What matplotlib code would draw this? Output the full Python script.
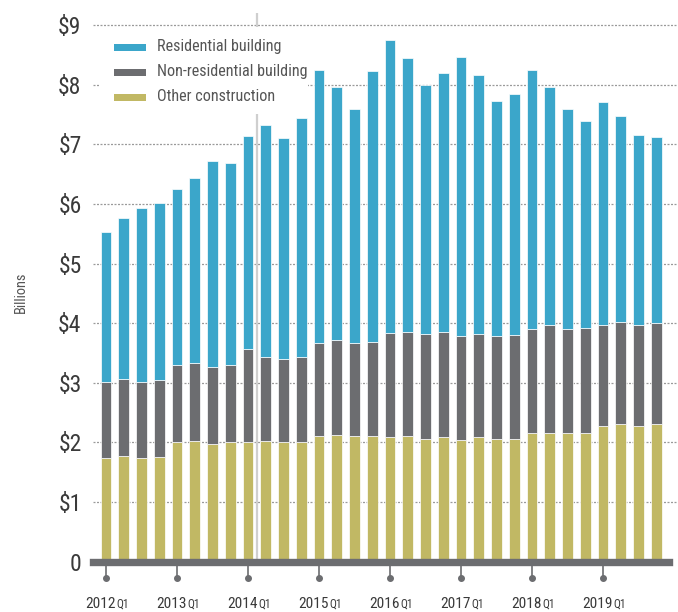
import matplotlib
matplotlib.use("Agg")
import matplotlib.pyplot as plt
import matplotlib.font_manager as fm
from matplotlib.patches import Rectangle
from matplotlib.textpath import TextPath
from matplotlib.font_manager import FontProperties
from matplotlib.transforms import blended_transform_factory, offset_copy

# ---- data (billions of dollars, quarterly 2012Q1 .. 2019Q4) ----
years = ["2012", "2013", "2014", "2015", "2016", "2017", "2018", "2019"]
quarters = [f"{y}Q{q}" for y in years for q in (1, 2, 3, 4)]

other_construction = [1.73, 1.77, 1.74, 1.76, 2.00, 2.02, 1.97, 2.00,
                      2.00, 2.02, 2.00, 2.00, 2.11, 2.13, 2.11, 2.11,
                      2.09, 2.11, 2.06, 2.09, 2.04, 2.09, 2.06, 2.06,
                      2.16, 2.16, 2.15, 2.16, 2.27, 2.30, 2.27, 2.30]
non_residential = [1.28, 1.29, 1.27, 1.28, 1.29, 1.31, 1.30, 1.29,
                   1.56, 1.42, 1.40, 1.44, 1.55, 1.59, 1.55, 1.58,
                   1.74, 1.75, 1.76, 1.77, 1.74, 1.73, 1.72, 1.74,
                   1.74, 1.81, 1.75, 1.76, 1.70, 1.72, 1.70, 1.70]
residential = [2.52, 2.71, 2.92, 2.97, 2.96, 3.10, 3.45, 3.40,
               3.58, 3.89, 3.71, 4.01, 4.59, 4.25, 3.93, 4.54,
               4.92, 4.59, 4.17, 4.34, 4.68, 4.34, 3.95, 4.04,
               4.34, 4.00, 3.70, 3.48, 3.74, 3.45, 3.18, 3.12]

y_ticks = [0, 1, 2, 3, 4, 5, 6, 7, 8, 9]
y_tick_labels = ["0"] + [f"${v}" for v in y_ticks[1:]]
series_names = ["Residential building", "Non-residential building", "Other construction"]
reference_quarter = 8.5  # light vertical marker between 2014Q1 and 2014Q2

# ---- style ----
BLUE = "#3ba6ca"
GREY = "#6c6d70"
OLIVE = "#c1b864"
TEXT = "#3a3a3a"
DPI = 100


def pick_narrow_font():
    """Find the narrowest regular sans font installed."""
    fonts = fm.fontManager.ttflist

    def regular(f):
        return f.style == "normal" and f.weight in (400, "normal", "regular", "book")

    for key in ("Liberation Sans Narrow", "Roboto Condensed", "Open Sans Condensed",
                "Noto Sans Condensed", "DejaVu Sans Condensed"):
        for f in fonts:
            if f.name == key and regular(f):
                return f.fname
    for f in fonts:
        if regular(f) and str(f.stretch) in ("condensed", "semi-condensed", "extra-condensed") \
                and "Mono" not in f.name and "Serif" not in f.name:
            return f.fname
    for f in fonts:
        if regular(f) and ("Narrow" in f.fname or "Condensed" in f.fname) \
                and "Mono" not in f.fname and "Serif" not in f.fname:
            return f.fname
    return fm.findfont(FontProperties(family="DejaVu Sans"))


FONT_FILE = pick_narrow_font()


def fp(size):
    return FontProperties(fname=FONT_FILE, size=size)


def ink_width_px(text, size):
    tp = TextPath((0, 0), text, prop=fp(size))
    return tp.get_extents().width * DPI / 72.0


def fit(text, target_px, lo, hi):
    s = 10 * target_px / ink_width_px(text, 10)
    return max(lo, min(hi, s))


fig = plt.figure(figsize=(6.78, 6.12), dpi=DPI)
ax = fig.add_axes([0.1367, 0.0824, 0.85, 0.8959])

x = list(range(len(quarters)))
bottom2 = [a + b for a, b in zip(other_construction, non_residential)]
w = 0.6
ax.bar(x, other_construction, width=w, color=OLIVE, edgecolor="white", linewidth=0.5, zorder=3)
ax.bar(x, non_residential, width=w, bottom=other_construction, color=GREY,
       edgecolor="white", linewidth=0.5, zorder=3)
ax.bar(x, residential, width=w, bottom=bottom2, color=BLUE,
       edgecolor="white", linewidth=0.5, zorder=3)

ax.set_xlim(-0.75, 31.72)
ax.set_ylim(0, 9.2)

# gridlines (dotted, extend to right edge of figure)
gt = blended_transform_factory(ax.transAxes, ax.transData)
for v in y_ticks[1:]:
    ax.plot([0, 1.0157], [v, v], transform=gt, color="#9a9a9a", lw=0.9,
            linestyle=(0, (1.6, 1.2)), zorder=1, clip_on=False)

# reference vertical line
ax.axvline(reference_quarter, color="#cfcfcf", lw=1.6, zorder=2)

# baseline axis bar
ax.axhline(0, color=GREY, lw=5.3, zorder=5, clip_on=False)

for s in ax.spines.values():
    s.set_visible(False)

# y ticks
ysize = fit("$9", 22, 11, 17)
ax.set_yticks(y_ticks)
ax.set_yticklabels(y_tick_labels)
ax.tick_params(axis="y", length=0, pad=8, labelcolor=TEXT)
for lab in ax.get_yticklabels():
    lab.set_fontproperties(fp(ysize))
ax.set_xticks([])

# x ticks: stems + dots + labels
xt = blended_transform_factory(ax.transData, ax.transAxes)
year_size = fit("2012", 29, 9, 15)
q_size = fit("Q1", 10, 6, 9)
W = ink_width_px("2012", year_size)
wq = ink_width_px("Q1", q_size)
gap = 1.5
left_px = -(W + gap + wq) / 2.0
year_pos = [quarters.index(f"{y}Q1") for y in years]
for p, yr in zip(year_pos, years):
    ax.plot([p, p], [-0.007, -0.0294], transform=xt, color=GREY, lw=1.2,
            clip_on=False, zorder=5)
    ax.plot([p], [-0.0294], transform=xt, marker="o", ms=4, color=GREY,
            clip_on=False, zorder=5)
    tr_year = offset_copy(xt, fig=fig, x=left_px * 72 / DPI, y=0, units="points")
    tr_q = offset_copy(xt, fig=fig, x=(left_px + W + gap) * 72 / DPI, y=0, units="points")
    ax.text(p, -0.0840, yr, transform=tr_year, ha="left", va="baseline",
            fontproperties=fp(year_size), color=TEXT)
    ax.text(p, -0.0840, "Q1", transform=tr_q, ha="left", va="baseline",
            fontproperties=fp(q_size), color=TEXT)

# y label
ax.text(-0.125, 0.4917, "Billions", transform=ax.transAxes, rotation=90,
        ha="center", va="center", fontproperties=fp(fit("Billions", 40, 8, 12)),
        color="#555555")

# legend (manual)
ax.add_patch(Rectangle((0.0127, 0.8163), 0.3609, 0.1588, transform=ax.transAxes,
                       facecolor="white", edgecolor="none", zorder=6))
leg_colors = [BLUE, GREY, OLIVE]
leg_y = [0.9384, 0.8928, 0.8469]
leg_size = fit("Non-residential building", 149, 8, 14)
for name, c, yy in zip(series_names, leg_colors, leg_y):
    ax.add_patch(Rectangle((0.0369, yy - 0.0064), 0.0556, 0.0128,
                           transform=ax.transAxes, facecolor=c, edgecolor="none",
                           zorder=7))
    ax.text(0.1116, yy + 0.001, name, transform=ax.transAxes, ha="left", va="center",
            fontproperties=fp(leg_size), color="#555555", zorder=7)

fig.savefig("out.png", dpi=DPI)
